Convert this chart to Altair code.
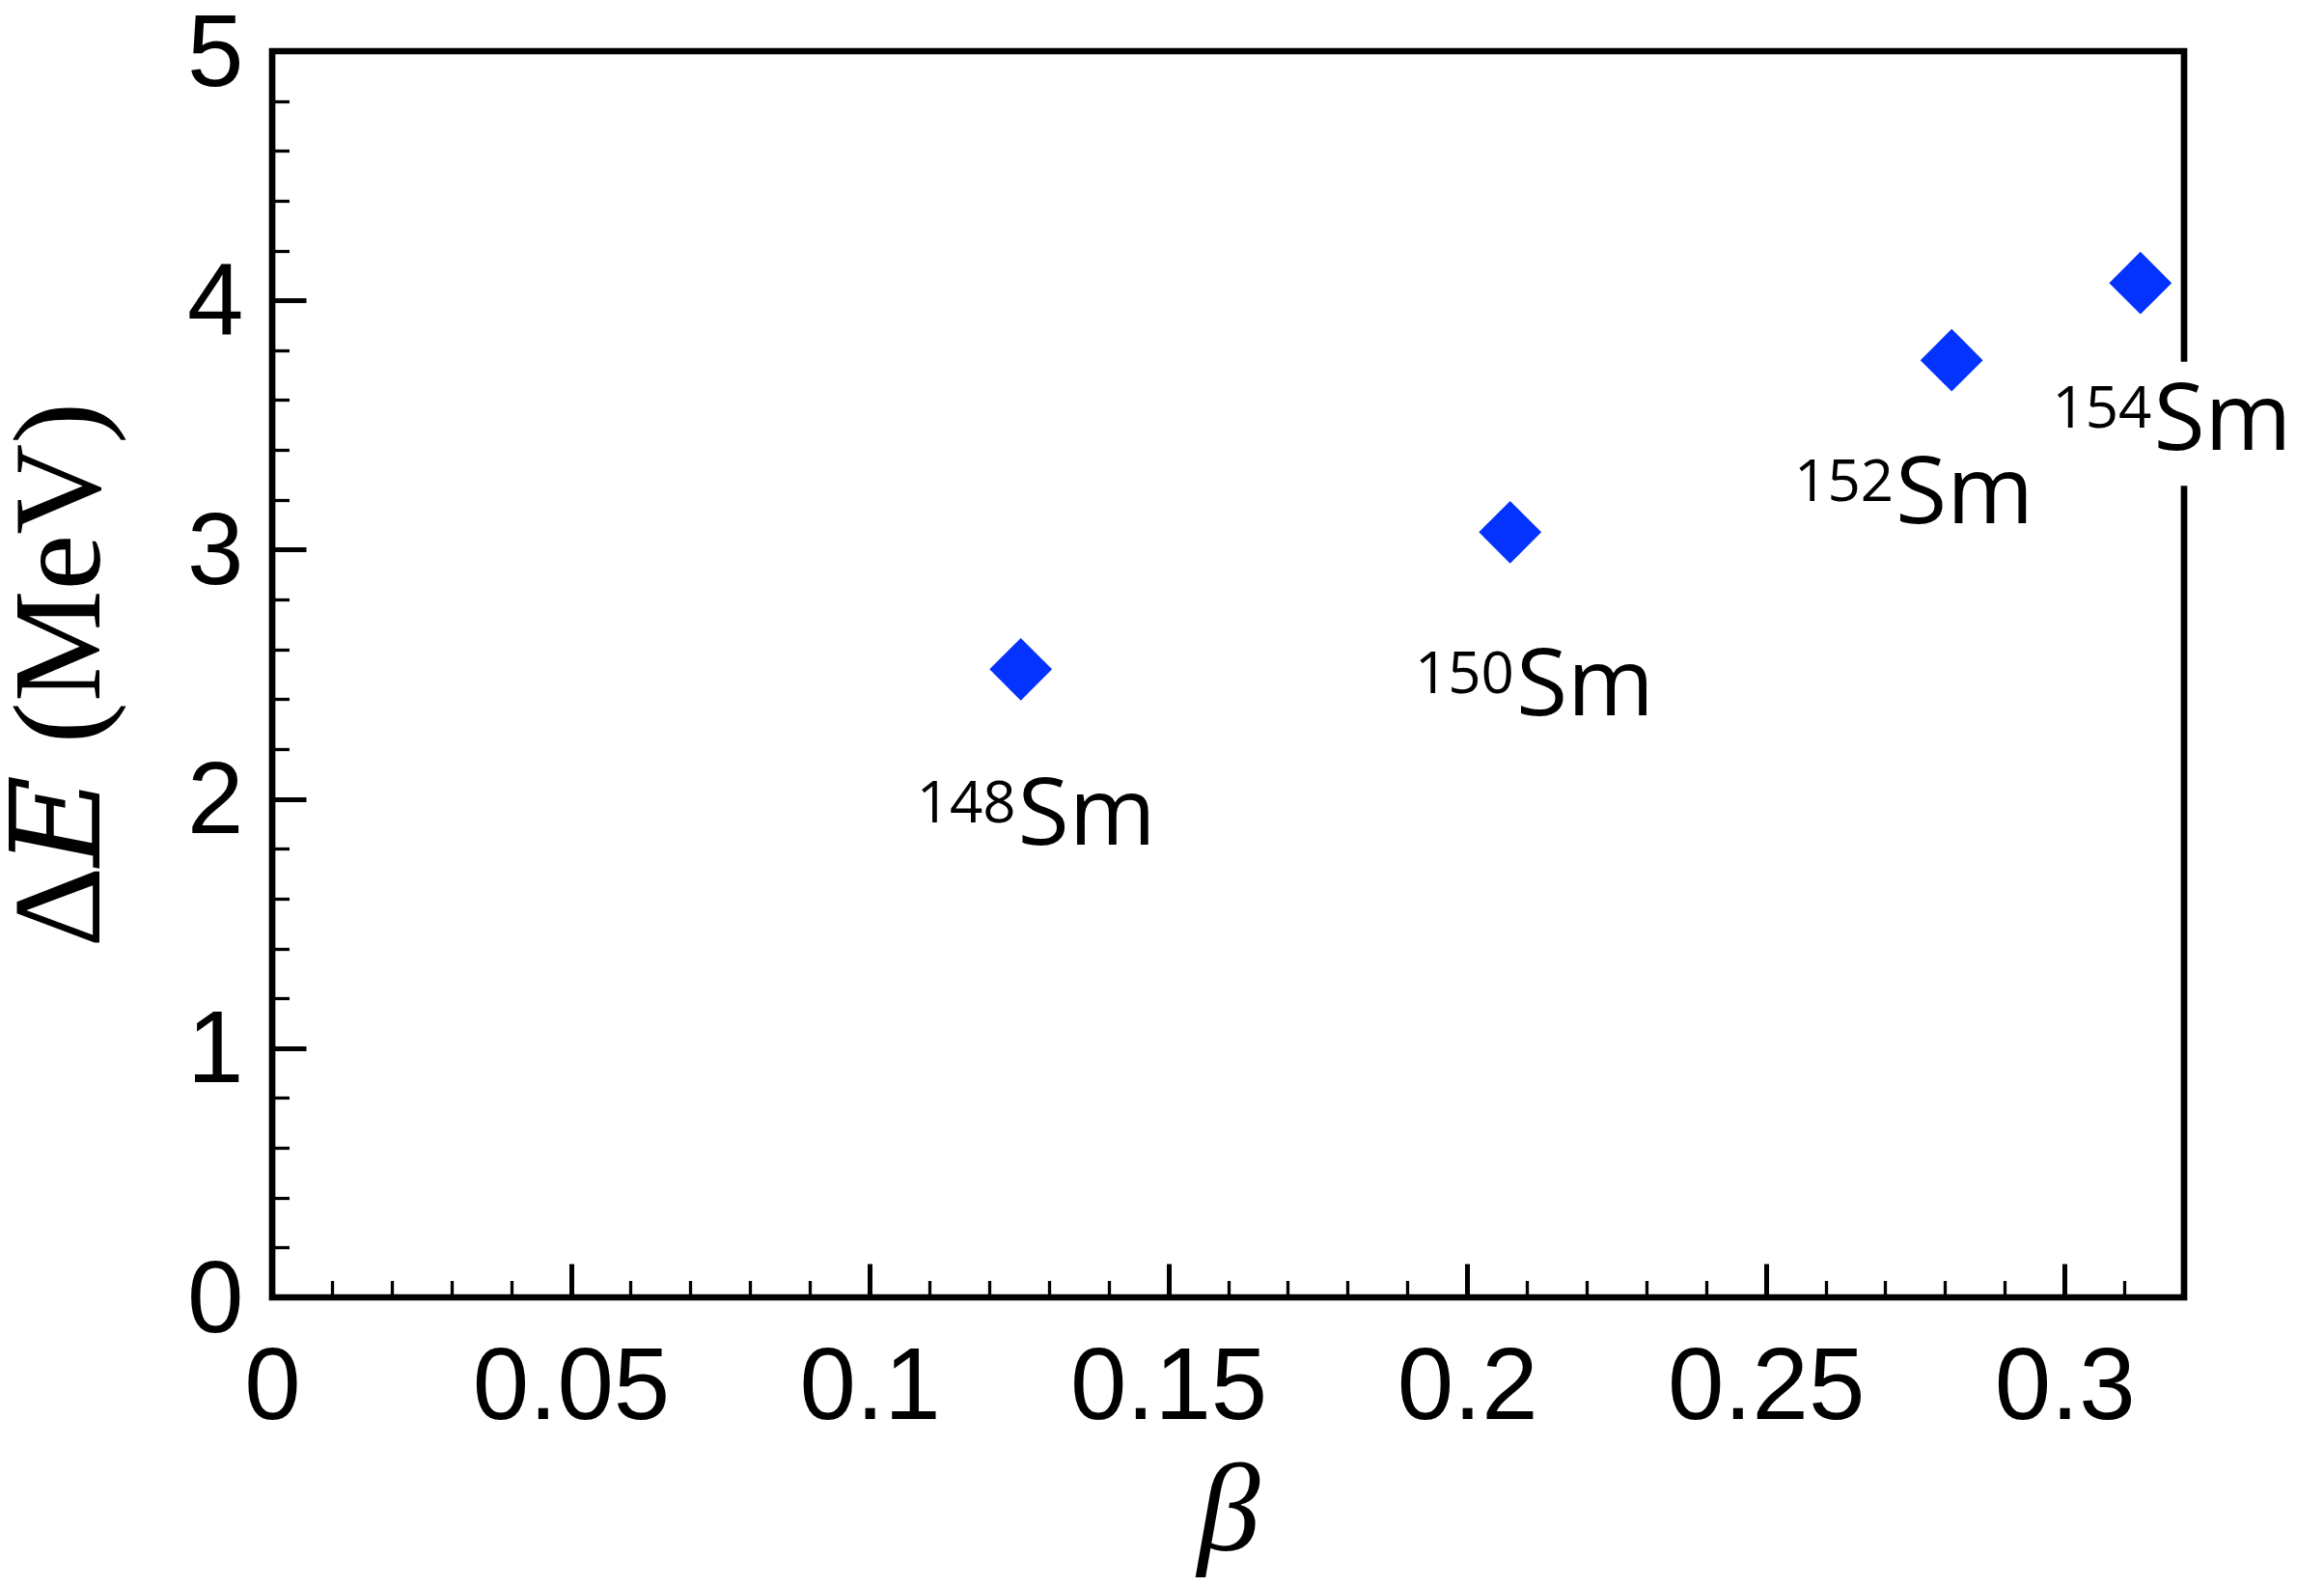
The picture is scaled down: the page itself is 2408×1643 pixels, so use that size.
import altair as alt
import pandas as pd

# ---- data ----
mass_numbers = ["148", "150", "152", "154"]
element = ["Sm", "Sm", "Sm", "Sm"]
beta = [0.1253, 0.2072, 0.2811, 0.3127]
delta_e = [2.52, 3.07, 3.76, 4.07]
# label anchor (start of "Sm", on its baseline), in data units
label_beta = [0.1248, 0.2082, 0.2717, 0.3149]
label_e = [1.815, 2.337, 3.108, 3.399]

x_major = [0, 0.05, 0.1, 0.15, 0.2, 0.25, 0.3]
x_minor = [0.01, 0.02, 0.03, 0.04, 0.06, 0.07, 0.08, 0.09, 0.11, 0.12, 0.13,
           0.14, 0.16, 0.17, 0.18, 0.19, 0.21, 0.22, 0.23, 0.24, 0.26, 0.27,
           0.28, 0.29, 0.31]
y_major = [0, 1, 2, 3, 4, 5]
y_minor = [0.2, 0.4, 0.6, 0.8, 1.2, 1.4, 1.6, 1.8, 2.2, 2.4, 2.6, 2.8,
           3.2, 3.4, 3.6, 3.8, 4.2, 4.4, 4.6, 4.8]

# frame gap behind the 154Sm label
gap_beta = [0.3185]
gap_beta2 = [0.3215]
gap_e = [3.256]
gap_e2 = [3.754]

df = pd.DataFrame({
    "beta": beta, "dE": delta_e, "A": mass_numbers, "el": element,
    "lx": label_beta, "ly": label_e,
})
gap = pd.DataFrame({"x": gap_beta, "x2": gap_beta2, "y": gap_e, "y2": gap_e2})

BLUE = "#0433ff"
xs = alt.Scale(domain=[0, 0.32], nice=False, zero=False)
ys = alt.Scale(domain=[0, 5], nice=False, zero=False)

base = alt.Chart(df)

# main points with label axes
points = base.mark_point(shape="diamond", filled=True, size=4200, color=BLUE,
                         opacity=1, strokeWidth=0).encode(
    x=alt.X("beta:Q", scale=xs, axis=alt.Axis(
        orient="bottom", values=x_major, format="~g", ticks=False, tickSize=0,
        domain=False, grid=False, labelFont="Liberation Sans",
        labelFontSize=105, labelColor="black", labelPadding=42,
        labelFlush=False, labelOverlap=False, labelLimit=2000,
        title="β", titleFont="Liberation Serif", titleFontStyle="italic",
        titleFontWeight="normal", titleFontSize=130, titleColor="black",
        titlePadding=12)),
    y=alt.Y("dE:Q", scale=ys, axis=alt.Axis(
        orient="left", values=y_major, format="~g", ticks=False, tickSize=0,
        domain=False, grid=False, labelFont="Liberation Sans",
        labelFontSize=105, labelColor="black", labelPadding=30,
        labelFlush=False, labelOverlap=False, labelLimit=2000, labelOffset=3,
        title="Δ𝐸 (MeV)", titleFont="Liberation Serif, DejaVu Serif, serif",
        titleFontWeight="normal", titleFontSize=130, titleColor="black",
        titlePadding=64, titleLimit=3000)),
)

def tick_layer(xv, yv, size, width):
    return base.mark_point(opacity=0).encode(
        x=alt.X("beta:Q", scale=xs, axis=alt.Axis(
            orient="bottom", values=xv, labels=False, domain=False, grid=False,
            ticks=True, tickSize=size, tickWidth=width, tickColor="black",
            offset=-size, title=None)),
        y=alt.Y("dE:Q", scale=ys, axis=alt.Axis(
            orient="left", values=yv, labels=False, domain=False, grid=False,
            ticks=True, tickSize=size, tickWidth=width, tickColor="black",
            offset=-size, title=None)),
    )

major = tick_layer(x_major, y_major, 35, 5)
minor = tick_layer(x_minor, y_minor, 17.5, 3.3)

gap_rect = alt.Chart(gap).mark_rect(color="white").encode(
    x=alt.X("x:Q", scale=xs, axis=None),
    x2="x2:Q",
    y=alt.Y("y:Q", scale=ys, axis=None),
    y2="y2:Q",
)

sm_text = base.mark_text(font="Open Sans", fontSize=97, align="left",
                         baseline="alphabetic", color="black").encode(
    x=alt.X("lx:Q", scale=xs, axis=None),
    y=alt.Y("ly:Q", scale=ys, axis=None),
    text="el:N",
)
a_text = base.mark_text(font="Open Sans", fontSize=60, align="right",
                        baseline="alphabetic", color="black", dy=-23,
                        dx=-2).encode(
    x=alt.X("lx:Q", scale=xs, axis=None),
    y=alt.Y("ly:Q", scale=ys, axis=None),
    text="A:N",
)

chart = alt.layer(points, major, minor, gap_rect, sm_text, a_text).resolve_axis(
    x="independent", y="independent"
).properties(
    width=1981, height=1291,
    autosize=alt.AutoSizeParams(type="none"),
    padding={"left": 274, "top": 45, "right": 137, "bottom": 291},
    view=alt.ViewBackground(stroke="black", strokeWidth=6.7, fill="white"),
).configure_view(
    stroke="black", strokeWidth=6.7, fill="white"
).configure(background="white")

chart.save("out.html", embed_options={"renderer": "svg", "actions": False})
